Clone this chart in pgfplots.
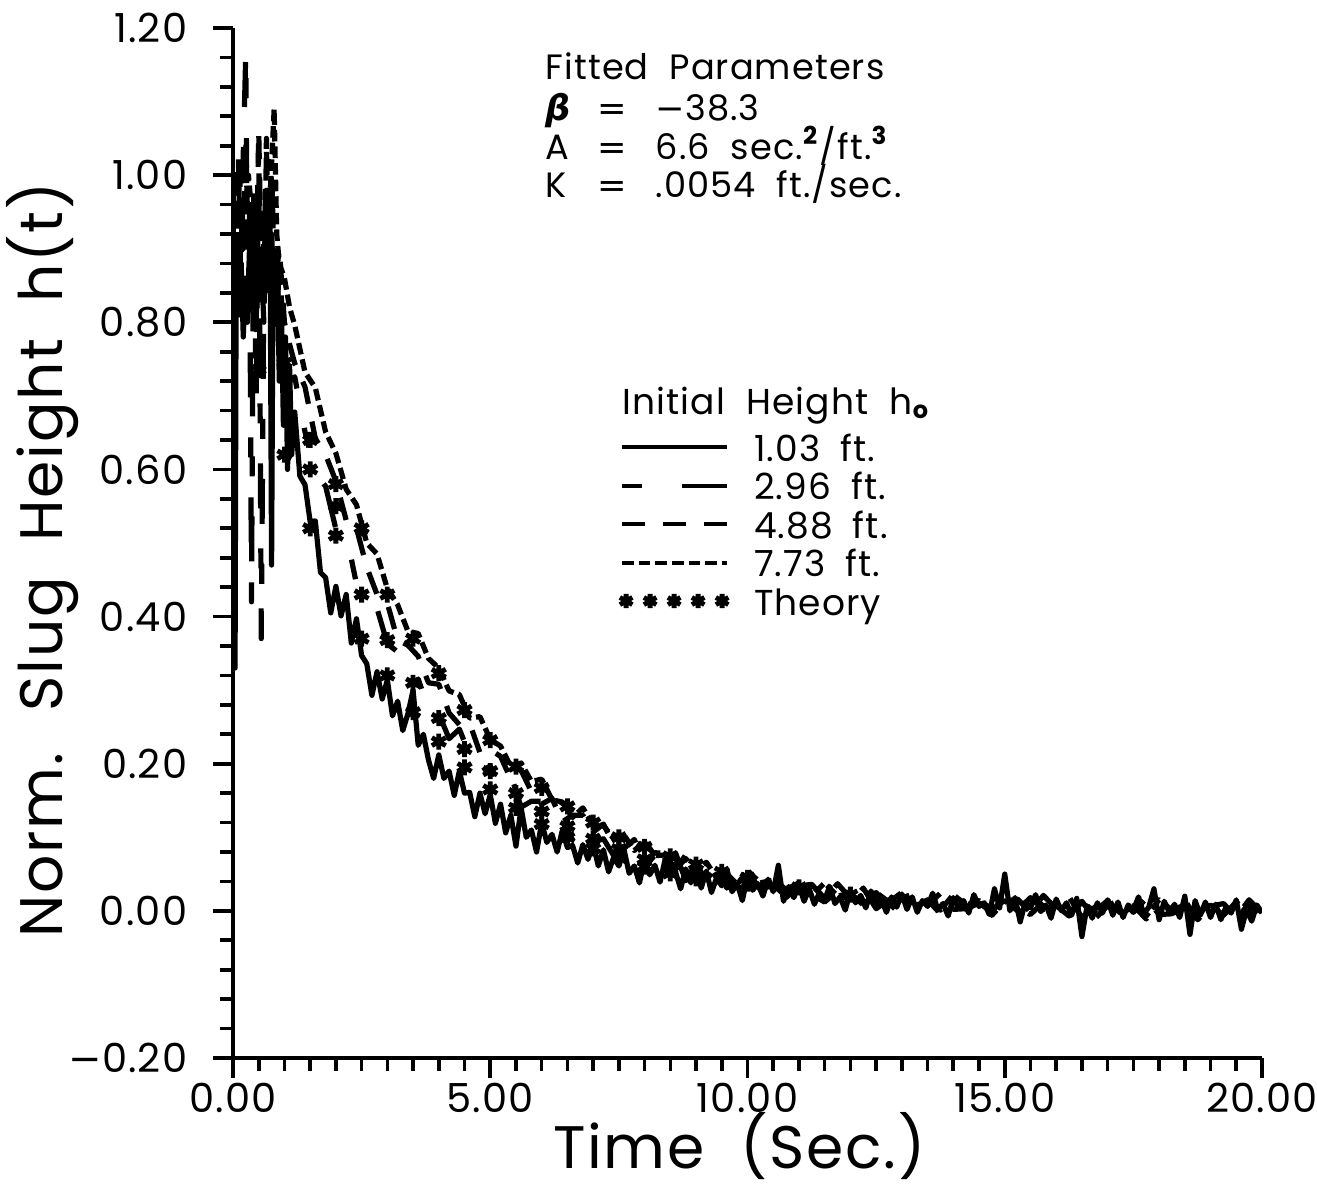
\documentclass[border=0pt]{standalone}
\usepackage{fontspec}
\setmainfont{Poppins}[WordSpace=2.0, LetterSpace=3.0]
\newfontfamily\gfont{DejaVu Sans}
\newcommand{\mns}{{\gfont −}}
\usepackage{pgfplots}
\pgfplotsset{compat=1.18}

\begin{document}
\begin{tikzpicture}
\useasboundingbox (-58.25pt,-32.5pt) rectangle (271pt,264.5pt);
\begin{axis}[
  scale only axis, width=257.25pt, height=257.5pt,
  xmin=0, xmax=20, ymin=-0.2, ymax=1.2,
  axis lines=left, axis line style={-, line width=1pt},
  xtick={0,5,10,15,20}, xticklabels={0.00,5.00,10.00,15.00,20.00},
  ytick={-0.2,0,0.2,0.4,0.6,0.8,1.0,1.2},
  yticklabels={\mns0.20,0.00,0.20,0.40,0.60,0.80,1.00,1.20},
  minor x tick num=9, minor y tick num=4,
  tick align=outside, major tick length=5pt, minor tick length=3.3pt,
  tick style={line width=0.9pt, black},
  ticklabel style={font=\fontsize{10}{12}\selectfont},
  xticklabel style={yshift=2.2pt},
  yticklabel style={xshift=-2.9pt},
  xlabel={Time (Sec.)}, ylabel={Norm. Slug Height h(t)},
  label style={font=\fontsize{15}{18}\selectfont},
  xlabel style={at={(axis description cs:0.492,-0.1068)}, anchor=base},
  ylabel style={at={(axis description cs:-0.166,0.4835)}, anchor=base},
  every axis plot/.append style={line width=1.3pt, line join=round, black},
  legend image code/.code={\draw[#1, line width=1pt] (0pt,0pt) -- (26.25pt,0pt);},
  legend cell align=left,
  legend style={at={(axis cs:7.52,0.656)}, anchor=north west, draw=none, fill=none,
    inner sep=0pt, outer sep=0pt, row sep=0pt, column sep=6.25pt,
    font=\fontsize{9}{10}\selectfont,
    nodes={inner sep=0pt, text height=8.3pt, text depth=1.3pt}},
]
% 1.03 ft
\addplot[solid] coordinates {
(0,1.00)(0.02,0.80)(0.04,0.33)(0.06,0.84)(0.08,0.89)(0.12,0.81)(0.16,0.88)(0.20,0.78)(0.24,0.86)(0.28,0.80)(0.32,0.90)(0.36,0.82)(0.40,0.87)(0.44,0.79)(0.48,0.85)(0.52,0.90)(0.56,0.83)(0.60,0.88)(0.64,0.92)(0.68,0.86)(0.72,0.93)(0.75,0.47)(0.78,0.90)(0.82,0.82)(0.86,0.88)(0.90,0.72)(0.94,0.82)(0.98,0.66)(1.02,0.78)(1.06,0.60)(1.10,0.74)(1.14,0.62)
(1.2,0.678)(1.3,0.591)(1.4,0.579)(1.5,0.529)(1.6,0.53)(1.7,0.46)(1.8,0.453)(1.9,0.405)(2.0,0.441)(2.1,0.401)(2.2,0.43)(2.3,0.364)(2.4,0.397)(2.5,0.347)(2.6,0.336)(2.7,0.293)(2.8,0.325)(2.9,0.288)(3.0,0.314)
(3.1,0.265)(3.2,0.285)(3.3,0.245)(3.4,0.268)(3.5,0.30)(3.6,0.225)(3.7,0.24)(3.8,0.205)(3.9,0.18)(4.0,0.212)(4.1,0.18)(4.2,0.19)(4.3,0.157)(4.4,0.19)(4.5,0.16)(4.6,0.161)(4.7,0.128)(4.8,0.16)(4.9,0.132)(5.0,0.158)(5.1,0.119)(5.2,0.145)(5.3,0.106)(5.4,0.13)(5.5,0.088)(5.6,0.14)(5.7,0.10)(5.8,0.11)(5.9,0.08)(6.0,0.12)
(6.1,0.093)(6.2,0.104)(6.3,0.080)(6.4,0.109)(6.5,0.086)(6.6,0.089)(6.7,0.065)(6.8,0.09)(6.9,0.07)(7.0,0.091)(7.1,0.061)(7.2,0.083)(7.3,0.053)(7.4,0.073)(7.5,0.061)(7.6,0.083)(7.7,0.051)(7.8,0.061)(7.9,0.038)(8.0,0.07)(8.1,0.049)(8.2,0.062)(8.3,0.039)(8.4,0.07)(8.5,0.048)(8.6,0.053)(8.7,0.03)(8.8,0.057)(8.9,0.038)(9.0,0.06)(9.1,0.031)(9.2,0.054)(9.3,0.025)(9.4,0.045)(9.5,0.034)(9.6,0.057)(9.7,0.026)(9.8,0.037)(9.9,0.014)(10.0,0.047)
(10.1,0.028)(10.2,0.037)(10.3,0.02)(10.4,0.043)(10.5,0.026)(10.6,0.062)(10.7,0.013)(10.8,0.033)(10.9,0.018)(11.0,0.035)(11.1,0.013)(11.2,0.03)(11.3,0.009)(11.4,0.025)(11.5,0.016)(11.6,0.033)(11.7,0.01)(11.8,0.019)(11.9,0.001)(12.0,0.027)(12.1,0.011)(12.2,0.021)(12.3,0.004)(12.4,0.027)(12.5,0.011)(12.6,0.016)(12.7,-0.002)(12.8,0.019)(12.9,0.005)(13.0,0.023)(13.1,0.002)(13.2,0.019)(13.3,-0.002)(13.4,0.014)(13.5,0.006)(13.6,0.024)(13.7,0.001)(13.8,0.01)(13.9,-0.007)(14.0,0.018)(14.1,0.004)(14.2,0.014)(14.3,-0.003)(14.4,0.022)(14.5,0.006)(14.6,0.011)(14.7,-0.005)(14.8,0.03)(14.9,0.004)(15.0,0.05)(15.1,0.0)(15.2,0.018)(15.3,-0.015)(15.4,0.012)(15.5,0.004)(15.6,0.022)(15.7,-0.001)(15.8,0.008)(15.9,-0.01)(16.0,0.016)(16.1,0.0)(16.2,0.011)(16.3,-0.006)(16.4,0.017)(16.5,-0.035)(16.6,0.007)(16.7,-0.01)(16.8,0.011)(16.9,-0.003)(17.0,0.015)(17.1,-0.006)(17.2,0.012)(17.3,-0.009)(17.4,0.008)(17.5,0.001)(17.6,0.019)(17.7,-0.004)(17.8,0.005)(17.9,0.03)(18.0,-0.012)(18.1,0.013)(18.2,-0.002)(18.3,0.009)(18.4,-0.009)(18.5,0.02)(18.6,-0.032)(18.7,0.014)(18.8,-0.006)(18.9,0.012)(19.0,-0.009)(19.1,0.009)(19.2,-0.012)(19.3,0.005)(19.4,-0.003)(19.5,0.015)(19.6,-0.025)(19.7,0.002)(19.8,-0.014)(19.9,0.008)(20.0,-0.003)
};
\addlegendentry{1.03\hspace{5pt}ft.}
% 2.96 ft
\addplot[dash pattern=on 5pt off 10pt on 11.25pt off 10pt] coordinates {
(0,0.98)(0.05,0.88)(0.1,1.04)(0.15,0.86)(0.2,1.03)(0.25,1.17)(0.28,0.82)(0.32,0.97)(0.36,0.42)(0.40,0.98)(0.45,0.70)(0.50,1.05)(0.55,0.37)(0.60,0.86)(0.65,1.05)(0.70,0.82)(0.75,1.02)(0.80,0.86)(0.85,0.80)(0.90,0.88)(1.0,0.76)(1.1,0.72)
(1.2,0.726)(1.4,0.651)(1.6,0.596)(1.8,0.577)(2.0,0.519)(2.2,0.513)(2.4,0.444)(2.6,0.432)(2.8,0.411)(3.0,0.363)(3.2,0.352)(3.4,0.306)(3.6,0.315)(3.8,0.275)(4.0,0.268)(4.2,0.234)(4.4,0.247)(4.6,0.212)(4.8,0.188)(5.0,0.197)(5.2,0.167)(5.4,0.185)(5.6,0.141)(5.8,0.149)(6.0,0.149)(6.2,0.121)(6.4,0.127)(6.6,0.096)(6.8,0.12)(7.0,0.093)(7.2,0.098)(7.4,0.075)(7.6,0.099)(7.8,0.074)(8.0,0.059)(8.2,0.076)(8.4,0.054)(8.6,0.079)(8.8,0.041)(9.0,0.056)(9.2,0.061)(9.4,0.038)(9.6,0.049)(9.8,0.023)(10.0,0.051)
(10.25,0.029)(10.5,0.035)(10.75,0.02)(11.0,0.04)(11.25,0.022)(11.5,0.012)(11.75,0.027)(12.0,0.011)(12.25,0.031)(12.5,0.003)(12.75,0.015)(13.0,0.021)(13.25,0.005)(13.5,0.015)(13.75,-0.004)(14.0,0.019)(14.25,0.002)(14.5,0.011)(14.75,-0.002)(15.0,0.022)(15.25,0.004)(15.5,-0.005)(15.75,0.012)(16.0,-0.003)(16.25,0.019)(16.5,-0.009)(16.75,0.005)(17.0,0.012)(17.25,-0.004)(17.5,0.007)(17.75,-0.011)(18.0,0.013)(18.25,-0.004)(18.5,0.005)(18.75,-0.008)(19.0,0.014)(19.25,-0.002)(19.5,-0.01)(19.75,0.006)(20.0,-0.008)
};
\addlegendentry{2.96\hspace{5pt}ft.}
% 4.88 ft
\addplot[dash pattern=on 5.75pt off 4.5pt] coordinates {
(0,0.93)(0.05,1.0)(0.1,0.86)(0.15,1.03)(0.2,0.90)(0.25,1.05)(0.3,0.88)(0.35,0.82)(0.4,0.95)(0.45,0.85)(0.5,1.06)(0.55,0.88)(0.6,0.80)(0.65,1.04)(0.7,0.86)(0.75,0.92)(0.8,0.84)(0.9,0.90)(1.0,0.80)(1.1,0.77)
(1.2,0.744)(1.4,0.712)(1.6,0.642)(1.8,0.62)(2.0,0.584)(2.2,0.531)(2.4,0.52)(2.6,0.467)(2.8,0.43)(3.0,0.418)(3.2,0.368)(3.4,0.361)(3.6,0.346)(3.8,0.31)(4.0,0.308)(4.2,0.269)(4.4,0.253)(4.6,0.255)(4.8,0.215)(5.0,0.219)(5.2,0.21)(5.4,0.179)(5.6,0.191)(5.8,0.162)(6.0,0.145)(6.2,0.153)(6.4,0.121)(6.6,0.13)(6.8,0.13)(7.0,0.107)(7.2,0.118)(7.4,0.09)(7.6,0.085)(7.8,0.097)(8.0,0.066)(8.2,0.079)(8.4,0.078)(8.6,0.056)(8.8,0.076)(9.0,0.054)(9.2,0.043)(9.4,0.058)(9.6,0.031)(9.8,0.046)(10.0,0.051)
(10.25,0.031)(10.5,0.046)(10.75,0.018)(11.0,0.034)(11.25,0.036)(11.5,0.016)(11.75,0.037)(12.0,0.017)(12.25,0.008)(12.5,0.025)(12.75,0.0)(13.0,0.017)(13.25,0.024)(13.5,0.007)(13.75,0.024)(14.0,0.002)(14.25,0.003)(14.5,0.02)(14.75,-0.006)(15.0,0.013)(15.25,0.016)(15.5,-0.002)(15.75,0.021)(16.0,0.003)(16.25,-0.006)(16.5,0.013)(16.75,-0.011)(17.0,0.007)(17.25,0.015)(17.5,-0.002)(17.75,0.017)(18.0,-0.005)(18.25,-0.004)(18.5,0.014)(18.75,-0.012)(19.0,0.006)(19.25,0.01)(19.5,-0.008)(19.75,0.015)(20.0,-0.003)
};
\addlegendentry{4.88\hspace{5pt}ft.}
% 7.73 ft
\addplot[dash pattern=on 2.9pt off 1.25pt] coordinates {
(0,0.95)(0.1,0.98)(0.2,0.90)(0.3,1.00)(0.4,0.92)(0.5,0.97)(0.6,0.90)(0.7,0.94)(0.8,1.09)(0.85,0.92)(0.9,0.88)(1.0,0.86)(1.1,0.82)
(1.2,0.796)(1.4,0.732)(1.6,0.711)(1.8,0.651)(2.0,0.622)(2.2,0.573)(2.4,0.552)(2.6,0.50)(2.8,0.485)(3.0,0.438)(3.2,0.416)(3.4,0.38)(3.6,0.377)(3.8,0.343)(4.0,0.33)(4.2,0.299)(4.4,0.294)(4.6,0.262)(4.8,0.264)(5.0,0.233)(5.2,0.224)(5.4,0.196)(5.6,0.201)(5.8,0.176)(6.0,0.179)(6.2,0.151)(6.4,0.148)(6.6,0.127)(6.8,0.14)(7.0,0.117)(7.2,0.116)(7.4,0.098)(7.6,0.103)(7.8,0.082)(8.0,0.095)(8.2,0.075)(8.4,0.076)(8.6,0.057)(8.8,0.071)(9.0,0.055)(9.2,0.066)(9.4,0.045)(9.6,0.05)(9.8,0.036)(10.0,0.055)
(10.25,0.038)(10.5,0.042)(10.75,0.029)(11.0,0.038)(11.25,0.021)(11.5,0.038)(11.75,0.02)(12.0,0.024)(12.25,0.008)(12.5,0.025)(12.75,0.012)(13.0,0.025)(13.25,0.007)(13.5,0.013)(13.75,0.001)(14.0,0.022)(14.25,0.008)(14.5,0.014)(14.75,0.003)(15.0,0.014)(15.25,0.0)(15.5,0.018)(15.75,0.002)(16.0,0.007)(16.25,-0.007)(16.5,0.012)(16.75,-0.001)(17.0,0.014)(17.25,-0.003)(17.5,0.005)(17.75,-0.007)(18.0,0.015)(18.25,0.001)(18.5,0.008)(18.75,-0.004)(19.0,0.008)(19.25,-0.006)(19.5,0.012)(19.75,-0.003)(20.0,0.002)
};
\addlegendentry{7.73\hspace{5pt}ft.}
% theory
\addplot[only marks, mark=asterisk, mark size=2pt, mark options={line width=1.2pt},
  legend image code/.code={\draw[only marks, mark=asterisk, mark size=1.8pt, line width=1.1pt] plot coordinates {(1pt,0pt)(7pt,0pt)(13pt,0pt)(19pt,0pt)(25pt,0pt)};}]
coordinates {
(0.5,0.735)(1.0,0.745)(1.0,0.62)(1.5,0.64)(1.5,0.60)(1.5,0.52)(2.0,0.58)(2.0,0.55)(2.0,0.51)
(2.5,0.52)(2.5,0.43)(2.5,0.37)(3.0,0.43)(3.0,0.368)(3.0,0.32)(3.5,0.37)(3.5,0.31)(3.5,0.27)
(4.0,0.323)(4.0,0.262)(4.0,0.23)(4.5,0.273)(4.5,0.22)(4.5,0.195)(5.0,0.232)(5.0,0.19)(5.0,0.165)
(5.5,0.196)(5.5,0.16)(5.5,0.14)(6.0,0.167)(6.0,0.135)(6.0,0.118)(6.5,0.142)(6.5,0.115)(6.5,0.10)
(7.0,0.12)(7.0,0.098)(7.0,0.085)(7.5,0.10)(7.5,0.084)(7.5,0.072)(8.0,0.087)(8.0,0.07)(8.0,0.06)
(8.5,0.074)(8.5,0.06)(8.5,0.051)(9.0,0.063)(9.0,0.05)(9.0,0.044)(9.5,0.053)(9.5,0.043)
(10.0,0.045)(10.0,0.037)(11.0,0.032)(12.0,0.022)
};
\addlegendentry{Theory}

\node[anchor=base west, inner sep=0pt, font=\fontsize{9}{11}\selectfont] at (axis cs:7.56,0.674) {Initial Height h\textsubscript{\textbf{o}}};
\begin{scope}[every node/.style={anchor=base west, inner sep=0pt, font=\fontsize{8.8}{10}\selectfont}]
\node at (axis cs:6.064,1.1295) {Fitted Parameters};
\node at (axis cs:6.064,1.0738) {\makebox[13pt][l]{\gfont\bfseries\itshape β}\makebox[14.5pt][l]{\gfont =}\mns38.3};
\node at (axis cs:6.064,1.0208) {\makebox[13pt][l]{A}\makebox[14.5pt][l]{\gfont =}6.6 sec.\textsuperscript{\textbf{2}}/ft.\textsuperscript{\textbf{3}}};
\node at (axis cs:6.064,0.9692) {\makebox[13pt][l]{K}\makebox[14.5pt][l]{\gfont =}.0054 ft./sec.};
\end{scope}
\end{axis}
\end{tikzpicture}
\end{document}
